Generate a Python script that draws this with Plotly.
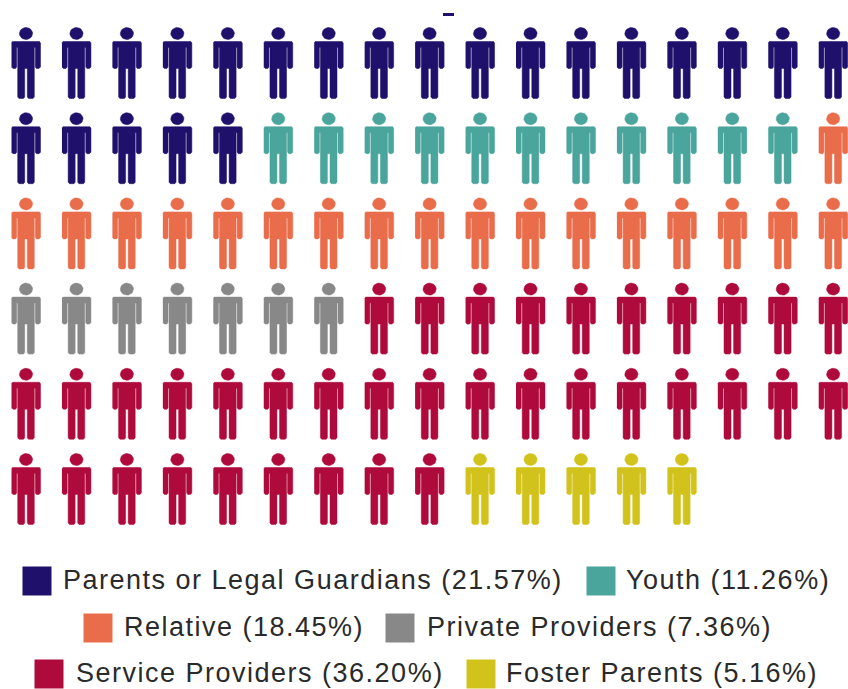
import numpy as np
import plotly.graph_objects as go

categories = ["Parents or Legal Guardians", "Youth", "Relative", "Private Providers", "Service Providers", "Foster Parents"]
percents = ["21.57%", "11.26%", "18.45%", "7.36%", "36.20%", "5.16%"]
icon_counts = [22, 11, 18, 7, 36, 5]
colors = ["#1f116b", "#4aa59c", "#e96d4b", "#888888", "#ae0a3c", "#d2c21c"]
swatch_x = [37, 601, 98, 400, 49, 481]
text_x = [63, 626, 124, 427, 76, 506]
swatch_y = [581, 581, 628, 628, 674, 674]
text_y = [582, 582, 629, 629, 675.5, 675.5]

COLS = 17
X0, DX = 26.0, 50.45
Y0, DY = 33.5, 85.2

theta = np.linspace(0, 2 * np.pi, 25)
head = list(zip(6.6 * np.cos(theta), 6.0 * np.sin(theta)))
body = [(-14.5, 9.5), (-13.5, 8), (13.5, 8), (14.5, 9.5), (14.5, 33.5), (13, 35), (10.5, 35), (9.3, 33.5),
        (9.3, 14), (8.3, 14), (8.3, 63.5), (7, 65), (2.5, 65), (1.3, 63.5), (1.3, 35), (-1.3, 35),
        (-1.3, 63.5), (-2.5, 65), (-7, 65), (-8.3, 63.5), (-8.3, 14), (-9.3, 14), (-9.3, 33.5), (-10.5, 35),
        (-13, 35), (-14.5, 33.5)]

fig = go.Figure()
start = 0
for name, count, color in zip(categories, icon_counts, colors):
    xs, ys = [], []
    for i in range(start, start + count):
        row, col = divmod(i, COLS)
        cx, cy = X0 + col * DX, Y0 + row * DY
        for poly in (head, body):
            xs += [cx + p[0] for p in poly] + [None]
            ys += [cy + p[1] for p in poly] + [None]
    start += count
    fig.add_trace(go.Scatter(x=xs, y=ys, mode="lines", fill="toself", fillcolor=color,
                             line=dict(color=color, width=0.5), hoverinfo="skip", showlegend=False))

fig.add_trace(go.Scatter(x=swatch_x, y=swatch_y, mode="markers", hoverinfo="skip", showlegend=False,
                         marker=dict(symbol="square", size=29, color=colors)))
fig.add_trace(go.Scatter(x=text_x, y=text_y, mode="text", textposition="middle right", hoverinfo="skip",
                         showlegend=False, text=[f"{c} ({p})" for c, p in zip(categories, percents)],
                         textfont=dict(family="Liberation Sans", size=27, color="#2a2a2a")))

fig.update_layout(width=848, height=689, margin=dict(l=0, r=0, t=0, b=0), plot_bgcolor="white", paper_bgcolor="white",
                  xaxis=dict(range=[0, 848], visible=False, fixedrange=True),
                  yaxis=dict(range=[689, 0], visible=False, fixedrange=True),
                  shapes=[dict(type="rect", x0=443, x1=454, y0=13, y1=16, fillcolor=colors[0], line_width=0)])
fig.write_html("out.html", config={"displayModeBar": False},
               post_script="document.body.style.margin='0';document.body.style.overflow='hidden';"
                           "document.querySelectorAll('.textpoint text').forEach(t=>{t.style.letterSpacing='1.5px';});")
